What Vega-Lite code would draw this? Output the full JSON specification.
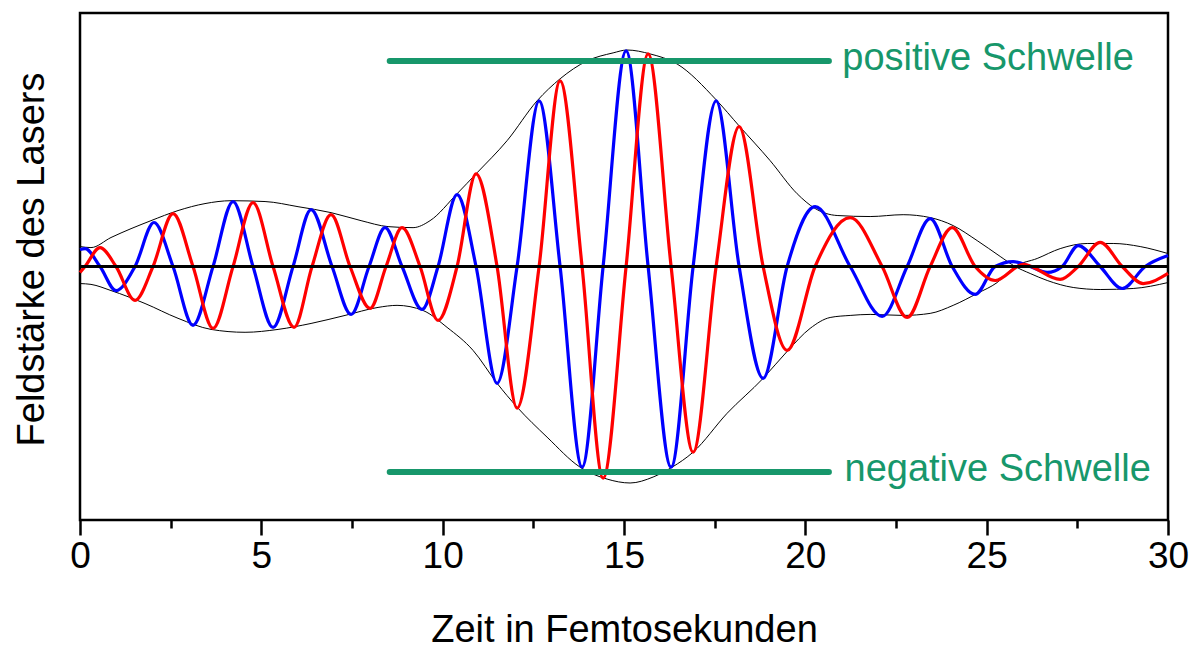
{
  "$schema": "https://vega.github.io/schema/vega-lite/v6.json",
  "width": 1088,
  "height": 507,
  "autosize": {"type": "none"},
  "padding": {"left": 80, "top": 13, "right": 32, "bottom": 128},
  "background": "white",
  "config": {
    "view": {"stroke": "black", "strokeWidth": 2.5},
    "font": "Liberation Sans"
  },
  "datasets": {
    "waves": [
      {"s":"blue","t":0,"v":0.083},{"s":"blue","t":0.138,"v":0.087},{"s":"blue","t":0.552,"v":0},{"s":"blue","t":0.993,"v":-0.117},{"s":"blue","t":1.517,"v":0},{"s":"blue","t":2.041,"v":0.214},{"s":"blue","t":2.565,"v":0},{"s":"blue","t":3.116,"v":-0.286},{"s":"blue","t":3.668,"v":0},{"s":"blue","t":4.22,"v":0.316},{"s":"blue","t":4.771,"v":0},{"s":"blue","t":5.323,"v":-0.296},{"s":"blue","t":5.874,"v":0},{"s":"blue","t":6.371,"v":0.277},{"s":"blue","t":6.95,"v":0},{"s":"blue","t":7.474,"v":-0.233},{"s":"blue","t":7.97,"v":0},{"s":"blue","t":8.411,"v":0.189},{"s":"blue","t":8.88,"v":0},{"s":"blue","t":9.432,"v":-0.209},{"s":"blue","t":9.873,"v":0},{"s":"blue","t":10.397,"v":0.35},{"s":"blue","t":10.921,"v":0},{"s":"blue","t":11.5,"v":-0.568},{"s":"blue","t":12.052,"v":0},{"s":"blue","t":12.659,"v":0.806},{"s":"blue","t":13.238,"v":0},{"s":"blue","t":13.844,"v":-0.976},{"s":"blue","t":14.424,"v":0},{"s":"blue","t":15.058,"v":1.049},{"s":"blue","t":15.665,"v":0},{"s":"blue","t":16.299,"v":-0.976},{"s":"blue","t":16.906,"v":0},{"s":"blue","t":17.54,"v":0.806},{"s":"blue","t":18.174,"v":0},{"s":"blue","t":18.836,"v":-0.544},{"s":"blue","t":19.498,"v":0},{"s":"blue","t":20.27,"v":0.291},{"s":"blue","t":21.236,"v":0},{"s":"blue","t":22.118,"v":-0.243},{"s":"blue","t":22.808,"v":0},{"s":"blue","t":23.442,"v":0.233},{"s":"blue","t":24.049,"v":0},{"s":"blue","t":24.683,"v":-0.136},{"s":"blue","t":25.234,"v":0},{"s":"blue","t":25.731,"v":0.024},{"s":"blue","t":26.2,"v":0},{"s":"blue","t":26.669,"v":-0.029},{"s":"blue","t":27.082,"v":0},{"s":"blue","t":27.524,"v":0.102},{"s":"blue","t":28.13,"v":0},{"s":"blue","t":28.737,"v":-0.107},{"s":"blue","t":29.371,"v":0},{"s":"blue","t":30,"v":0.053},
      {"s":"red","t":0,"v":-0.029},{"s":"red","t":0.138,"v":0},{"s":"red","t":0.552,"v":0.092},{"s":"red","t":0.993,"v":0},{"s":"red","t":1.517,"v":-0.165},{"s":"red","t":2.013,"v":0},{"s":"red","t":2.565,"v":0.257},{"s":"red","t":3.116,"v":0},{"s":"red","t":3.668,"v":-0.301},{"s":"red","t":4.22,"v":0},{"s":"red","t":4.771,"v":0.311},{"s":"red","t":5.323,"v":0},{"s":"red","t":5.902,"v":-0.296},{"s":"red","t":6.398,"v":0},{"s":"red","t":6.922,"v":0.252},{"s":"red","t":7.446,"v":0},{"s":"red","t":7.998,"v":-0.204},{"s":"red","t":8.439,"v":0},{"s":"red","t":8.88,"v":0.189},{"s":"red","t":9.377,"v":0},{"s":"red","t":9.873,"v":-0.262},{"s":"red","t":10.397,"v":0},{"s":"red","t":10.921,"v":0.451},{"s":"red","t":11.5,"v":0},{"s":"red","t":12.052,"v":-0.689},{"s":"red","t":12.659,"v":0},{"s":"red","t":13.238,"v":0.903},{"s":"red","t":13.844,"v":0},{"s":"red","t":14.424,"v":-1.029},{"s":"red","t":15.058,"v":0},{"s":"red","t":15.665,"v":1.034},{"s":"red","t":16.299,"v":0},{"s":"red","t":16.906,"v":-0.903},{"s":"red","t":17.54,"v":0},{"s":"red","t":18.174,"v":0.68},{"s":"red","t":18.836,"v":0},{"s":"red","t":19.498,"v":-0.408},{"s":"red","t":20.27,"v":0},{"s":"red","t":21.236,"v":0.238},{"s":"red","t":22.118,"v":0},{"s":"red","t":22.808,"v":-0.248},{"s":"red","t":23.442,"v":0},{"s":"red","t":24.049,"v":0.189},{"s":"red","t":24.683,"v":0},{"s":"red","t":25.234,"v":-0.068},{"s":"red","t":26.007,"v":0.01},{"s":"red","t":27.027,"v":-0.063},{"s":"red","t":27.524,"v":0},{"s":"red","t":28.13,"v":0.117},{"s":"red","t":28.737,"v":0},{"s":"red","t":29.316,"v":-0.083},{"s":"red","t":30,"v":-0.034}
    ],
    "env": [
      {"side":"a","t":0,"v":0.097},{"side":"a","t":0.303,"v":0.092},{"side":"a","t":0.855,"v":0.141},{"side":"a","t":1.407,"v":0.184},{"side":"a","t":1.958,"v":0.223},{"side":"a","t":2.703,"v":0.272},{"side":"a","t":3.447,"v":0.306},{"side":"a","t":4.164,"v":0.32},{"side":"a","t":5.102,"v":0.316},{"side":"a","t":6.012,"v":0.291},{"side":"a","t":6.922,"v":0.262},{"side":"a","t":7.75,"v":0.223},{"side":"a","t":8.494,"v":0.194},{"side":"a","t":9.184,"v":0.189},{"side":"a","t":9.653,"v":0.223},{"side":"a","t":10.397,"v":0.354},{"side":"a","t":10.949,"v":0.456},{"side":"a","t":11.776,"v":0.612},{"side":"a","t":12.604,"v":0.806},{"side":"a","t":13.238,"v":0.913},{"side":"a","t":13.982,"v":1.0},{"side":"a","t":14.7,"v":1.039},{"side":"a","t":15.086,"v":1.053},{"side":"a","t":15.72,"v":1.034},{"side":"a","t":16.464,"v":0.985},{"side":"a","t":17.54,"v":0.811},{"side":"a","t":18.174,"v":0.684},{"side":"a","t":19.029,"v":0.515},{"side":"a","t":19.774,"v":0.354},{"side":"a","t":20.27,"v":0.282},{"side":"a","t":20.877,"v":0.248},{"side":"a","t":21.787,"v":0.243},{"side":"a","t":22.697,"v":0.252},{"side":"a","t":23.442,"v":0.238},{"side":"a","t":24.076,"v":0.199},{"side":"a","t":24.738,"v":0.126},{"side":"a","t":25.372,"v":0.049},{"side":"a","t":25.786,"v":0},{"side":"a","t":26.2,"v":-0.034},{"side":"a","t":26.669,"v":-0.068},{"side":"a","t":27.386,"v":-0.102},{"side":"a","t":28.13,"v":-0.112},{"side":"a","t":29.04,"v":-0.107},{"side":"a","t":30,"v":-0.078},
      {"side":"b","t":0,"v":-0.083},{"side":"b","t":0.303,"v":-0.087},{"side":"b","t":0.855,"v":-0.117},{"side":"b","t":1.793,"v":-0.18},{"side":"b","t":2.703,"v":-0.252},{"side":"b","t":3.613,"v":-0.306},{"side":"b","t":4.551,"v":-0.32},{"side":"b","t":5.461,"v":-0.306},{"side":"b","t":6.371,"v":-0.277},{"side":"b","t":7.308,"v":-0.238},{"side":"b","t":8.218,"v":-0.199},{"side":"b","t":8.742,"v":-0.189},{"side":"b","t":9.459,"v":-0.214},{"side":"b","t":10.121,"v":-0.296},{"side":"b","t":10.838,"v":-0.408},{"side":"b","t":11.5,"v":-0.568},{"side":"b","t":12.052,"v":-0.684},{"side":"b","t":12.879,"v":-0.83},{"side":"b","t":13.789,"v":-0.976},{"side":"b","t":14.534,"v":-1.034},{"side":"b","t":15.168,"v":-1.053},{"side":"b","t":15.803,"v":-1.024},{"side":"b","t":16.327,"v":-0.976},{"side":"b","t":16.906,"v":-0.903},{"side":"b","t":17.843,"v":-0.714},{"side":"b","t":18.836,"v":-0.544},{"side":"b","t":19.498,"v":-0.413},{"side":"b","t":20.132,"v":-0.301},{"side":"b","t":20.684,"v":-0.248},{"side":"b","t":21.236,"v":-0.238},{"side":"b","t":21.787,"v":-0.233},{"side":"b","t":22.697,"v":-0.238},{"side":"b","t":23.442,"v":-0.228},{"side":"b","t":24.076,"v":-0.189},{"side":"b","t":24.738,"v":-0.131},{"side":"b","t":25.29,"v":-0.078},{"side":"b","t":25.786,"v":0},{"side":"b","t":26.393,"v":0.039},{"side":"b","t":27.027,"v":0.087},{"side":"b","t":27.772,"v":0.112},{"side":"b","t":28.489,"v":0.112},{"side":"b","t":29.233,"v":0.097},{"side":"b","t":30,"v":0.063}
    ],
    "thr": [
      {"name":"pos","t1":8.54,"t2":20.65,"v":1.0,"label":"positive Schwelle","tx":21.02,"ty":0.956},
      {"name":"neg","t1":8.54,"t2":20.65,"v":-1.0,"label":"negative Schwelle","tx":21.08,"ty":-1.044}
    ],
    "minor": [{"m":2.5},{"m":7.5},{"m":12.5},{"m":17.5},{"m":22.5},{"m":27.5}]
  },
  "resolve": {"axis": {"x": "independent"}},
  "layer": [
    {
      "data": {"name": "env"},
      "mark": {"type": "line", "color": "black", "strokeWidth": 1, "interpolate": "monotone"},
      "encoding": {
        "x": {"field": "t", "type": "quantitative",
              "scale": {"domain": [0, 30], "nice": false, "zero": false},
              "axis": {"orient": "bottom", "values": [0,5,10,15,20,25,30], "domain": false, "grid": false,
                       "tickSize": 15, "tickWidth": 2.5, "tickColor": "black",
                       "labelFontSize": 37, "labelColor": "black", "labelPadding": 3, "labelFlush": false, "labelOverlap": false, "labelBound": false,
                       "title": "Zeit in Femtosekunden", "titleFontSize": 38, "titleFontWeight": "normal", "titleColor": "black", "titlePadding": 37}},
        "y": {"field": "v", "type": "quantitative",
              "scale": {"domain": [-1.233, 1.233], "nice": false, "zero": false},
              "axis": {"domain": false, "ticks": false, "labels": false, "grid": false,
                       "title": "Feldstärke des Lasers", "titleFontSize": 38, "titleFontWeight": "normal", "titleColor": "black", "titlePadding": 37, "titleBaseline": "alphabetic", "titleY": 246}},
        "detail": {"field": "side"}
      }
    },
    {
      "data": {"name": "waves"},
      "mark": {"type": "line", "strokeWidth": 3.2, "interpolate": "monotone"},
      "encoding": {
        "x": {"field": "t", "type": "quantitative", "axis": null},
        "y": {"field": "v", "type": "quantitative"},
        "color": {"field": "s", "type": "nominal", "scale": {"domain": ["blue", "red"], "range": ["#0000ff", "#ff0000"]}, "legend": null}
      }
    },
    {
      "data": {"values": [{}]},
      "mark": {"type": "rule", "color": "black", "strokeWidth": 3},
      "encoding": {"y": {"datum": 0}}
    },
    {
      "data": {"name": "minor"},
      "mark": {"type": "point", "opacity": 0},
      "encoding": {
        "x": {"field": "m", "type": "quantitative",
              "axis": {"orient": "bottom", "values": [2.5,7.5,12.5,17.5,22.5,27.5], "domain": false, "grid": false, "labels": false, "title": null,
                       "tickSize": 8, "tickWidth": 2.5, "tickColor": "black"}},
        "y": {"datum": 0}
      }
    },
    {
      "data": {"name": "thr"},
      "mark": {"type": "rule", "color": "#17976b", "strokeWidth": 6, "strokeCap": "round"},
      "encoding": {
        "x": {"field": "t1", "type": "quantitative", "axis": null},
        "x2": {"field": "t2"},
        "y": {"field": "v", "type": "quantitative"}
      }
    },
    {
      "data": {"name": "thr"},
      "mark": {"type": "text", "color": "#17976b", "fontSize": 38, "align": "left", "baseline": "alphabetic", "font": "Liberation Sans"},
      "encoding": {
        "x": {"field": "tx", "type": "quantitative", "axis": null},
        "y": {"field": "ty", "type": "quantitative"},
        "text": {"field": "label"}
      }
    }
  ]
}
